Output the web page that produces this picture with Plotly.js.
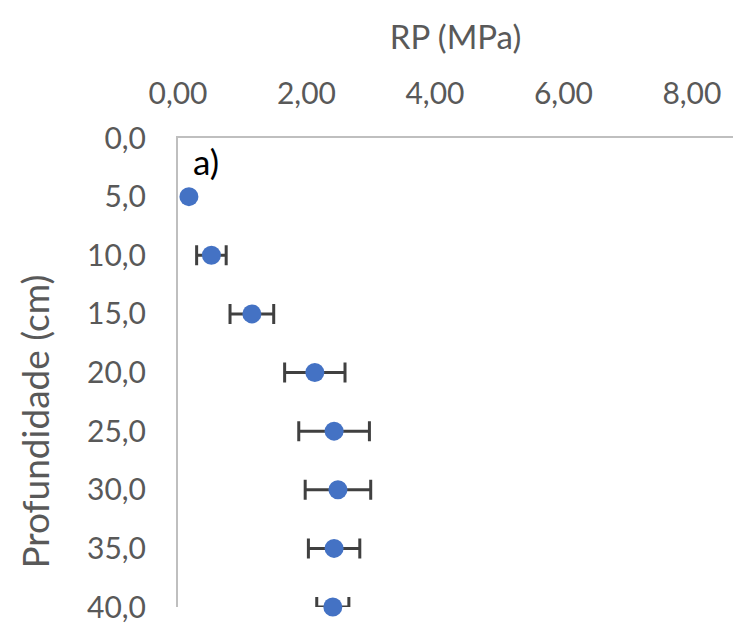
<!DOCTYPE html>
<html>
<head>
<meta charset="utf-8">
<script src="https://cdn.plot.ly/plotly-3.0.1.min.js"></script>
<style>html,body{margin:0;padding:0;background:#fff;}</style>
</head>
<body>
<div id="chart" style="width:733px;height:624px;"></div>
<script>
const depth = [5, 10, 15, 20, 25, 30, 35, 40];
const rp = [0.17, 0.52, 1.15, 2.13, 2.43, 2.49, 2.43, 2.41];
const rpErr = [null, 0.23, 0.34, 0.47, 0.55, 0.51, 0.40, 0.25];
const xTitle = 'RP (MPa)';
const yTitle = 'Profundidade (cm)';
const panelLabel = 'a)';

const font = 'Lato, "Open Sans", sans-serif';
const grey = '#595959';

const withErr = depth.map((d, i) => i).filter(i => rpErr[i] !== null);
const noErr = depth.map((d, i) => i).filter(i => rpErr[i] === null);

const marker = {color: '#4472C4', size: 19};
const traces = [
  {
    x: withErr.map(i => rp[i]), y: withErr.map(i => depth[i]),
    type: 'scatter', mode: 'markers', marker: marker,
    error_x: {type: 'data', array: withErr.map(i => rpErr[i]), visible: true,
              color: '#404040', thickness: 3, width: 10},
    showlegend: false, cliponaxis: false
  },
  {
    x: noErr.map(i => rp[i]), y: noErr.map(i => depth[i]),
    type: 'scatter', mode: 'markers', marker: marker,
    showlegend: false, cliponaxis: false
  }
];

const layout = {
  width: 733, height: 624,
  margin: {l: 178, r: 0, t: 138, b: 17},
  paper_bgcolor: '#fff', plot_bgcolor: '#fff',
  separators: ',.',
  font: {family: font, color: grey, size: 30},
  xaxis: {
    side: 'top', range: [0, 8.64], dtick: 2, tick0: 0, tickformat: '.2f',
    showgrid: false, zeroline: false, showline: true, linecolor: '#bfbfbf', linewidth: 2,
    ticks: '', ticklabelstandoff: 20,
    tickfont: {family: font, size: 30, color: grey},
    title: {text: xTitle, font: {family: font, size: 33, color: grey}, standoff: 14}
  },
  yaxis: {
    range: [40, 0], dtick: 5, tick0: 0, tickformat: '.1f',
    showgrid: false, zeroline: false, showline: true, linecolor: '#bfbfbf', linewidth: 2,
    ticks: '', ticklabelstandoff: 24,
    tickfont: {family: font, size: 30, color: grey}
  },
  annotations: [
    {text: yTitle, textangle: -90, xref: 'paper', yref: 'paper', x: -0.258, y: 0.395,
     xanchor: 'center', yanchor: 'middle', showarrow: false,
     font: {family: font, size: 37, color: grey}},
    {text: panelLabel, xref: 'x', yref: 'y', x: 0.2, y: 2.0, xanchor: 'left', yanchor: 'middle',
     showarrow: false, font: {family: font, size: 35, color: '#000'}}
  ]
};

Plotly.newPlot('chart', traces, layout, {displayModeBar: false, staticPlot: true});
</script>
</body>
</html>
